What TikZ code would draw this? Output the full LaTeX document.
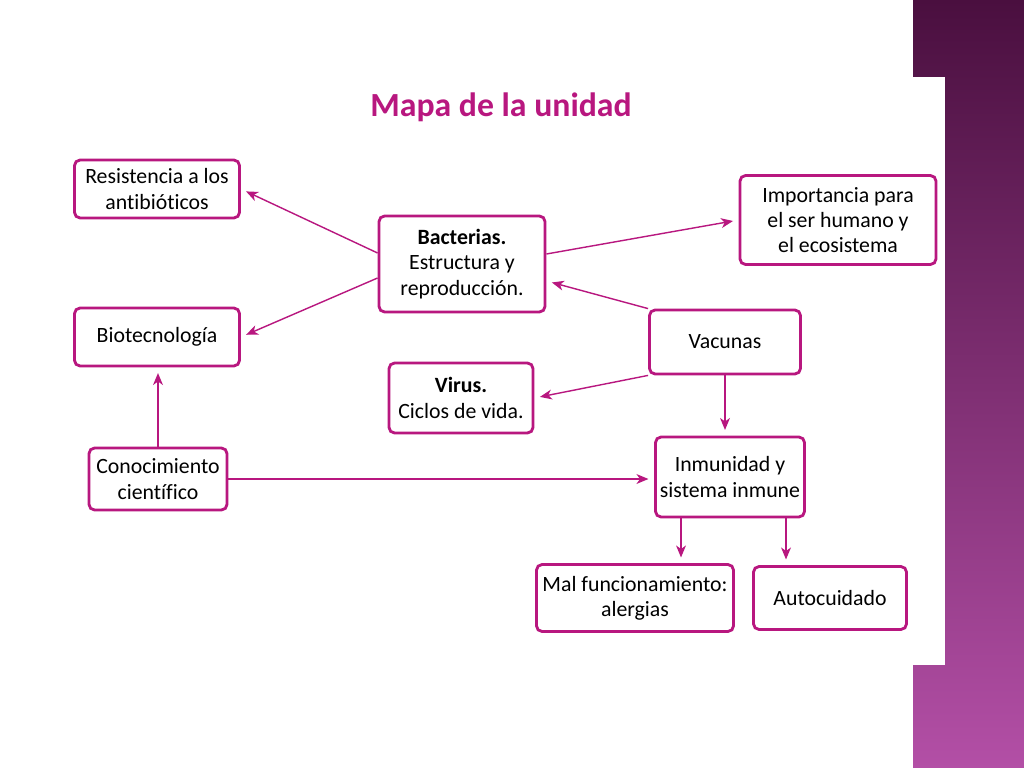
\documentclass[tikz,border=0pt]{standalone}
\usepackage{fontspec}
\setmainfont{Carlito}[Ligatures=CommonOff]
\usepackage{xcolor}
\usetikzlibrary{arrows.meta, positioning, calc}
\definecolor{mapa}{HTML}{B8177F}
\definecolor{bandtop}{HTML}{4A0F3F}
\definecolor{bandbot}{HTML}{B34FA6}

\begin{document}
\begin{tikzpicture}[x=0.025cm, y=-0.025cm,
  concepto/.style={draw=mapa, line width=2pt, rounded corners=4pt, fill=white,
    align=center, font=\fontsize{15.5}{18}\selectfont, inner sep=2pt},
  flecha/.style={-{Stealth[length=8.5pt, width=7pt, inset=2.5pt]}, draw=mapa,
    line width=1pt, shorten >=4pt}]
  \useasboundingbox (0,0) rectangle (1024,768);
  % fondo
  \fill[white] (0,0) rectangle (1024,768);
  \shade[top color=bandtop, bottom color=bandbot] (913,0) rectangle (1024,768);
  \fill[white] (860,77) rectangle (945,665);
  \node[text=mapa, font=\fontsize{24}{28}\selectfont\bfseries] (titulo) at (501,107) {Mapa de la unidad};
  % conceptos
  \node[concepto, minimum width=4.125cm, minimum height=1.45cm] (resist) at (157,189) {Resistencia a los\\antibióticos};
  \node[concepto, minimum width=4.15cm, minimum height=2.4cm] (bact) at (462,264) {\textbf{Bacterias.}\\Estructura y\\reproducción.};
  \node[concepto, minimum width=4.9cm, minimum height=2.225cm] (import) at (838,220) {Importancia para\\el ser humano y\\el ecosistema};
  \node[concepto, minimum width=4.125cm, minimum height=1.45cm] (biotec) at (157,337) {Biotecnología};
  \node[concepto, minimum width=3.775cm, minimum height=1.6cm] (vacunas) at (725,342) {Vacunas};
  \node[concepto, minimum width=3.6cm, minimum height=1.75cm] (virus) at (461,398) {\textbf{Virus.}\\Ciclos de vida.};
  \node[concepto, minimum width=3.45cm, minimum height=1.55cm] (conoc) at (158,479) {Conocimiento\\científico};
  \node[concepto, minimum width=3.725cm, minimum height=2cm] (inmun) at (730,477) {Inmunidad y\\sistema inmune};
  \node[concepto, minimum width=4.925cm, minimum height=1.675cm] (malfun) at (635,598) {Mal funcionamiento:\\alergias};
  \node[concepto, minimum width=3.825cm, minimum height=1.575cm] (autoc) at (830,598) {Autocuidado};
  % conexiones
  \draw[flecha] ($(bact.west)+(0,-11)$) -- (resist.east);
  \draw[flecha] ($(bact.west)+(0,14)$) -- (biotec.east);
  \draw[flecha] ($(bact.east)+(0,-10)$) -- (import.west);
  \draw[flecha] (vacunas.north west) -- ($(bact.east)+(0,17)$);
  \draw[flecha] (vacunas.south west) -- (virus.east);
  \draw[flecha] (vacunas.south) -- (vacunas.south |- inmun.north);
  \draw[flecha] (conoc.east) -- (conoc.east -| inmun.west);
  \draw[flecha] (conoc.north) -- (conoc.north |- biotec.south);
  \coordinate (salida1) at ($(inmun.south)+(-49,0)$);
  \coordinate (salida2) at ($(inmun.south)+(56,0)$);
  \draw[flecha] (salida1) -- (salida1 |- malfun.north);
  \draw[flecha] (salida2) -- (salida2 |- autoc.north);
\end{tikzpicture}
\end{document}
